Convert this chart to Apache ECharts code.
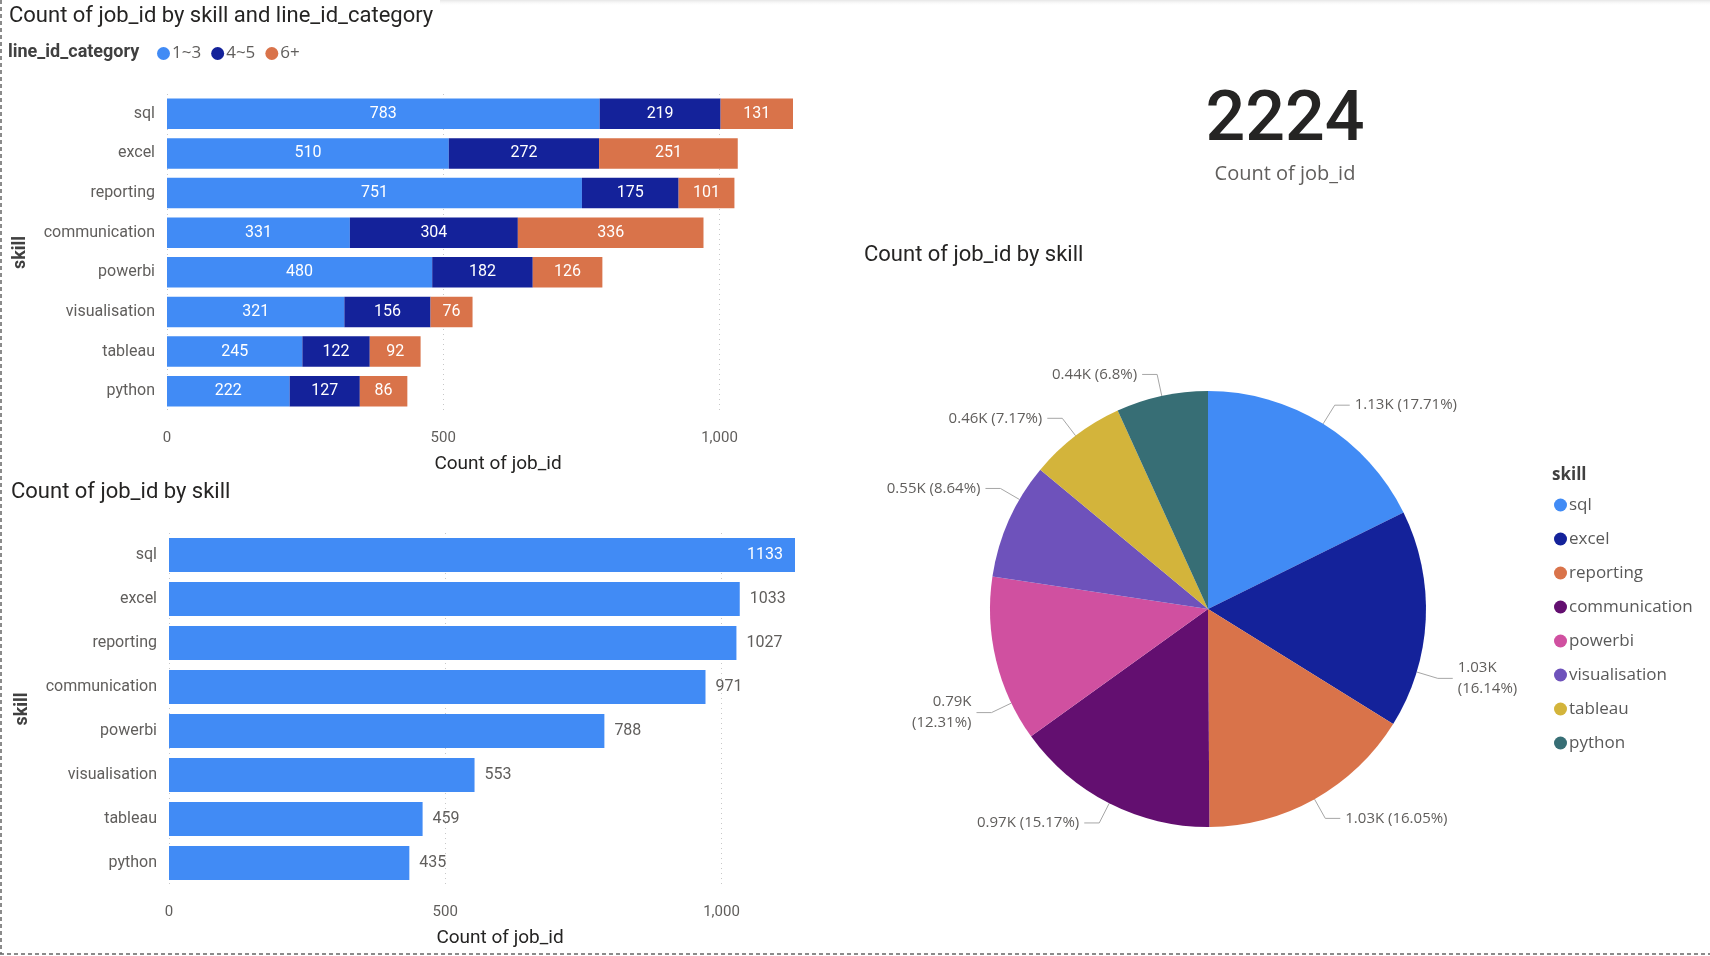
<!DOCTYPE html>
<html><head><meta charset="utf-8">
<script src="https://cdn.jsdelivr.net/npm/echarts@6/dist/echarts.min.js"></script>
<style>html,body{margin:0;padding:0;background:#fff}#c{width:1710px;height:956px}</style>
</head><body><div id="c"></div>
<script>
// ---- data ----
const skills = ['sql','excel','reporting','communication','powerbi','visualisation','tableau','python'];
const lineCategories = ['1~3','4~5','6+'];
const count1to3 = [783,510,751,331,480,321,245,222];
const count4to5 = [219,272,175,304,182,156,122,127];
const count6plus = [131,251,101,336,126,76,92,86];
const skillTotals = [1133,1033,1027,971,788,553,459,435];
const cardValue = 2224;
const xTickStep = 500;

// ---- style ----
const DIN = "Roboto, 'Noto Sans', sans-serif";
const SEG = "'Open Sans', 'Noto Sans', sans-serif";
const catColors = ['#418BF5','#14229A','#D9734A'];
const skillColors = ['#418BF5','#14229A','#D9734A','#630F70','#D050A0','#6E52BB','#D3B43B','#376E75'];
const dark = '#252423', gray = '#605E5C';
const PIE_C = [1208, 609], PIE_R = 218, LEN1 = 22, LEN2 = 15, TXT_GAP = 5;
const anchorShift = {excel: 14, powerbi: -12, visualisation: 6}; // label-line anchor nudges (deg)

const stackSeries = [count1to3, count4to5, count6plus];
const maxTotal = Math.max(...skillTotals);
const grandTotal = skillTotals.reduce((a,b)=>a+b,0);

// cumulative mid angles for pie (degrees clockwise from top)
const midAngles = [];
{ let c = 0; skillTotals.forEach(v => { midAngles.push((c + v/2)/grandTotal*360); c += v; }); }

function valueAxis(gridIndex){
  return {
    type:'value', gridIndex, min:0, max:maxTotal, interval:xTickStep,
    name:'Count of job_id', nameLocation:'middle', nameGap:44,
    nameTextStyle:{fontFamily:DIN, fontSize:19, color:dark, padding:[0,0,0,36]},
    axisLine:{show:false}, axisTick:{show:false},
    axisLabel:{fontFamily:DIN, fontSize:15, color:gray, margin:20, showMaxLabel:false,
      formatter:v => v % xTickStep === 0 ? v.toLocaleString('en-US') : ''},
    splitLine:{show:true, showMaxLine:false, lineStyle:{type:[1,4], color:'#C8C8C8', width:1}}
  };
}
function catAxis(gridIndex, gap){
  return {
    type:'category', gridIndex, data:skills, inverse:true,
    name:'skill', nameLocation:'middle', nameRotate:90, nameGap:gap,
    nameTextStyle:{fontFamily:DIN, fontSize:18, fontWeight:'bold', color:'#404040'},
    axisLine:{show:false}, axisTick:{show:false},
    axisLabel:{fontFamily:DIN, fontSize:16, color:gray, margin:12}
  };
}

const series = [];
lineCategories.forEach((name, i) => {
  series.push({
    type:'bar', name, stack:'s', xAxisIndex:0, yAxisIndex:0,
    data: stackSeries[i], barCategoryGap:'23%',
    itemStyle:{color:catColors[i]},
    label:{show:true, position:'inside', color:'#fff', fontFamily:DIN, fontSize:16}
  });
});
series.push({
  type:'bar', name:'Count of job_id', xAxisIndex:1, yAxisIndex:1, barCategoryGap:'23%',
  itemStyle:{color:catColors[0]},
  data: skillTotals.map(v => ({
    value:v,
    label: v === maxTotal
      ? {show:true, position:'insideRight', color:'#fff', fontFamily:DIN, fontSize:16, distance:12}
      : {show:true, position:'right', color:gray, fontFamily:DIN, fontSize:16, distance:10}
  }))
});
series.push({
  type:'pie', name:'skill', center:PIE_C, radius:PIE_R, startAngle:90, clockwise:true,
  data: skills.map((s,i) => ({name:s, value:skillTotals[i], itemStyle:{color:skillColors[i]}})),
  label:{show:true, fontFamily:SEG, fontSize:15, color:gray, lineHeight:21,
    formatter: p => {
      const k = (Math.round(p.value/10)/100).toFixed(2) + 'K';
      const pct = '(' + parseFloat((p.value/grandTotal*100).toFixed(2)) + '%)';
      const a = midAngles[p.dataIndex];
      const nearHoriz = Math.abs(a-90) < 20 || Math.abs(a-270) < 20;
      return nearHoriz ? k + '\n' + pct : k + ' ' + pct;
    }},
  labelLine:{show:true, length:LEN1, length2:LEN2, lineStyle:{color:'#A6A6A6', width:1}},
  labelLayout: function(params){
    const i = params.dataIndex;
    const a = (midAngles[i] + (anchorShift[skills[i]] || 0)) * Math.PI / 180;
    const sx = Math.sin(a), cy = -Math.cos(a);
    const p0 = [PIE_C[0] + sx*PIE_R, PIE_C[1] + cy*PIE_R];
    const p1 = [PIE_C[0] + sx*(PIE_R+LEN1), PIE_C[1] + cy*(PIE_R+LEN1)];
    const right = sx >= 0;
    const p2 = [p1[0] + (right ? LEN2 : -LEN2), p1[1]];
    return {
      x: p2[0] + (right ? TXT_GAP : -TXT_GAP), y: p2[1],
      align: right ? 'left' : 'right', verticalAlign: 'middle',
      labelLinePoints: [p0, p1, p2]
    };
  },
  emphasis:{scale:false}
});

const option = {
  animation:false,
  backgroundColor:'#fff',
  title:[
    {text:'Count of job_id by skill and line_id_category', left:4, top:0, textStyle:{fontFamily:DIN, fontSize:22, fontWeight:'normal', color:dark}},
    {text:'Count of job_id by skill', left:6, top:476, textStyle:{fontFamily:DIN, fontSize:22, fontWeight:'normal', color:dark}},
    {text:'Count of job_id by skill', left:859, top:239, textStyle:{fontFamily:DIN, fontSize:22, fontWeight:'normal', color:dark}},
    {text:String(cardValue), left:1280, textAlign:'center', top:82, textStyle:{fontFamily:DIN, fontSize:70, fontWeight:500, color:dark}},
    {text:'Count of job_id', left:1280, textAlign:'center', top:159, textStyle:{fontFamily:SEG, fontSize:20, fontWeight:'normal', color:gray}}
  ],
  legend:[
    {data:lineCategories, left:152, top:40, orient:'horizontal', icon:'circle', itemWidth:13, itemHeight:13, itemGap:10,
     textStyle:{fontFamily:SEG, fontSize:17, color:gray, padding:[0,0,0,-3]}},
    {data:skills, left:1549, top:490, orient:'vertical', icon:'circle', itemWidth:13, itemHeight:13, itemGap:14,
     textStyle:{fontFamily:SEG, fontSize:17, color:'#595959', lineHeight:20, padding:[0,0,0,-3]}}
  ],
  grid:[
    {left:167, top:94, width:626, height:317},
    {left:169, top:533, width:626, height:352}
  ],
  xAxis:[valueAxis(0), valueAxis(1)],
  yAxis:[catAxis(0,138), catAxis(1,138)],
  series,
  graphic:[
    {type:'text', left:8, top:43, style:{text:'line_id_category', fontFamily:DIN, fontSize:18, fontWeight:'bold', fill:'#404040'}},
    {type:'text', left:1552, top:467, style:{text:'skill', fontFamily:SEG, fontSize:17, fontWeight:'bold', fill:'#404040'}},
    {type:'line', shape:{x1:1, y1:0, x2:1, y2:954}, style:{stroke:'#666', lineWidth:1.5, lineDash:[4,3]}},
    {type:'line', shape:{x1:0, y1:954, x2:1710, y2:954}, style:{stroke:'#666', lineWidth:1.5, lineDash:[4,3]}},
    {type:'rect', shape:{x:440, y:0, width:1270, height:6}, style:{fill:new echarts.graphic.LinearGradient(0,0,0,1,[{offset:0,color:'#E6E6E6'},{offset:1,color:'rgba(255,255,255,0)'}])}}
  ]
};

const chart = echarts.init(document.getElementById('c'), null, {renderer:'canvas'});
chart.setOption(option);
</script>
</body></html>
